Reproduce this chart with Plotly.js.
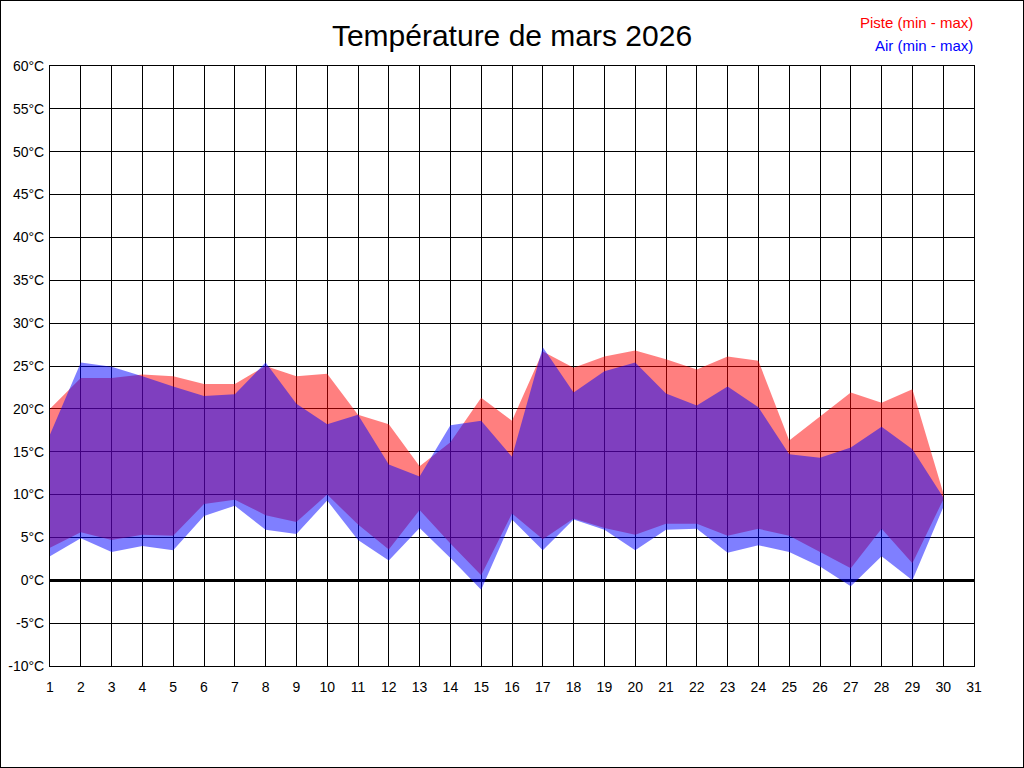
<!DOCTYPE html>
<html>
<head>
<meta charset="utf-8">
<script src="https://cdn.plot.ly/plotly-3.0.1.min.js"></script>
<style>
html,body{margin:0;padding:0;background:#fff;}
#chart{width:1024px;height:768px;box-sizing:border-box;border:1px solid #000;}
</style>
</head>
<body>
<div id="chart"></div>
<script>
const days = [1,2,3,4,5,6,7,8,9,10,11,12,13,14,15,16,17,18,19,20,21,22,23,24,25,26,27,28,29,30];
const pisteMin = [3.8,5.6,4.7,5.3,5.2,8.9,9.4,7.6,6.8,10.0,6.5,3.6,8.2,4.3,0.6,7.8,4.8,7.2,6.1,5.3,6.6,6.6,5.2,6.0,5.2,3.3,1.4,6.0,2.0,9.4];
const pisteMax = [20.0,23.6,23.6,24.0,23.8,22.9,22.9,25.0,23.8,24.1,19.3,18.2,13.3,16.1,21.3,18.6,26.7,24.8,26.1,26.8,25.8,24.6,26.1,25.6,16.3,19.1,21.9,20.7,22.3,10.2];
const airMin = [2.8,4.9,3.3,4.0,3.5,7.5,8.7,5.9,5.4,9.3,4.7,2.3,6.1,2.6,-1.1,7.1,3.5,7.1,5.9,3.5,5.9,6.0,3.2,4.1,3.3,1.6,-0.7,2.8,0.0,8.5];
const airMax = [17.0,25.4,24.9,23.8,22.6,21.5,21.7,25.4,20.6,18.2,19.3,13.5,12.1,18.1,18.6,14.4,27.2,21.9,24.4,25.4,21.8,20.4,22.6,20.2,14.7,14.3,15.5,17.9,15.3,9.7];
const xTicks = [1,2,3,4,5,6,7,8,9,10,11,12,13,14,15,16,17,18,19,20,21,22,23,24,25,26,27,28,29,30,31];
const yTicks = [-10,-5,0,5,10,15,20,25,30,35,40,45,50,55,60];

const red = 'rgba(255,0,0,0.5)';
const blue = 'rgba(0,0,255,0.5)';

const traces = [
  {x: days, y: pisteMin, type:'scatter', mode:'lines', line:{width:0, color:red}, hoverinfo:'skip', showlegend:false},
  {x: days, y: pisteMax, type:'scatter', mode:'lines', fill:'tonexty', fillcolor:red, line:{width:0, color:red}, hoverinfo:'skip', showlegend:false},
  {x: days, y: airMin, type:'scatter', mode:'lines', line:{width:0, color:blue}, hoverinfo:'skip', showlegend:false},
  {x: days, y: airMax, type:'scatter', mode:'lines', fill:'tonexty', fillcolor:blue, line:{width:0, color:blue}, hoverinfo:'skip', showlegend:false}
];

const layout = {
  width: 1022, height: 766,
  margin: {l:49, r:49, t:65, b:101, pad:0},
  paper_bgcolor:'#fff', plot_bgcolor:'#fff',
  font: {family:'Liberation Sans, Arial, sans-serif', size:14, color:'#000'},
  title: {text:'Température de mars 2026', font:{family:'Liberation Sans, Arial, sans-serif', size:30, color:'#000'}, x:0.5, xanchor:'center', y:0.955, yanchor:'middle'},
  xaxis: {
    range:[1,31], tickmode:'array', tickvals:xTicks, ticktext:xTicks.map(String),
    showgrid:true, gridcolor:'#000', gridwidth:1, zeroline:false,
    showline:true, linecolor:'#000', linewidth:1, mirror:true,
    ticks:'', ticklen:0, ticklabelstandoff:8, fixedrange:true, tickfont:{size:14, color:'#000'}
  },
  yaxis: {
    range:[-10,60], tickmode:'array', tickvals:yTicks, ticktext:yTicks.map(v=>v+'°C'),
    showgrid:true, gridcolor:'#000', gridwidth:1,
    zeroline:true, zerolinecolor:'#000', zerolinewidth:3,
    showline:true, linecolor:'#000', linewidth:1, mirror:true,
    ticks:'', ticklen:0, ticklabelstandoff:2, fixedrange:true, tickfont:{size:14, color:'#000'}
  },
  annotations: [
    {text:'Piste (min - max)', xref:'paper', yref:'paper', x:1.0015, y:1.073, xanchor:'right', yanchor:'middle', showarrow:false, font:{size:15, color:'#ff0000'}},
    {text:'Air (min - max)', xref:'paper', yref:'paper', x:1.0015, y:1.035, xanchor:'right', yanchor:'middle', showarrow:false, font:{size:15, color:'#0000ff'}}
  ],
  showlegend:false
};

Plotly.newPlot('chart', traces, layout, {displayModeBar:false, staticPlot:true});
</script>
</body>
</html>
